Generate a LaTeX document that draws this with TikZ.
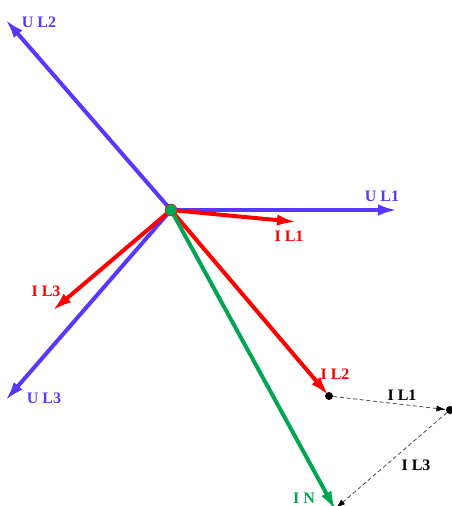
\documentclass[tikz,border=0pt]{standalone}
\usepackage{fontspec}
\setmainfont{Liberation Serif}
\usetikzlibrary{arrows.meta,positioning,calc}
\definecolor{ublue}{RGB}{88,56,255}
\definecolor{ired}{RGB}{255,0,0}
\definecolor{ngreen}{RGB}{0,166,81}
\tikzset{
  phasor/.style={line width=3pt,-{Latex[length=15pt,width=8.5pt]}},
  thinphasor/.style={line width=0.6pt,densely dashed,black!70,-{Latex[length=7pt,width=4.5pt,black]}},
  lab/.style={font=\bfseries\fontsize{12pt}{14pt}\selectfont,inner sep=0pt},
  blackdot/.style={circle,fill=black,inner sep=0pt,minimum size=6pt}
}
\begin{document}
\begin{tikzpicture}[x=0.75pt,y=-0.75pt,>=Latex]
  \useasboundingbox (0,0) rectangle (451,506);
  \coordinate (hub) at (171,210);
  \coordinate (ul1) at (398,210);
  \coordinate (ul2) at (5,19);
  \coordinate (ul3) at (5,401);
  \coordinate (il1) at (297,222);
  \coordinate (il3) at (52,311);
  \coordinate (in) at (336,511);
  \node[blackdot] (il2) at (329,396) {};
  \node[blackdot] (sum) at (450,410) {};
  \coordinate (il3end) at (336,508);
  % voltages
  \foreach \tip in {ul1,ul2,ul3}{
    \draw[phasor,ublue] (hub) -- (\tip);
  }
  % currents
  \foreach \tip in {il1,il3,il2.center}{
    \draw[phasor,ired] (hub) -- (\tip);
  }
  \draw[phasor,ngreen] (hub) -- (in);
  \draw[thinphasor] (il2) -- (sum);
  \draw[thinphasor] (sum) -- (il3end);
  \node[circle,fill=ngreen,draw=ired,line width=0.4pt,inner sep=0pt,minimum size=9pt] (hubdot) at (hub) {};
  % labels
  \node[lab,ublue] (lul1) at (382,196) {U L1};
  \node[lab,ublue] (lul2) at (39,22) {U L2};
  \node[lab,ublue] (lul3) at (44,398) {U L3};
  \node[lab,ired] (lil1) at (289,236) {I L1};
  \node[lab,ired] (lil2) at (335,374) {I L2};
  \node[lab,ired] (lil3) at (46,291) {I L3};
  \node[lab,ngreen] (lin) at (304,498) {I N};
  \node[lab] (lsum1) at (402,395) {I L1};
  \node[lab] (lsum3) at (416,465) {I L3};
\end{tikzpicture}
\end{document}
